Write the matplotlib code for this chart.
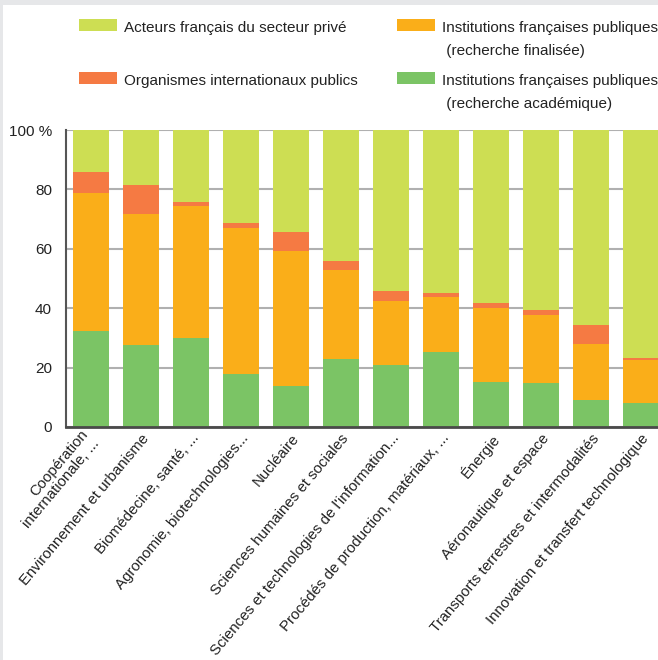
import matplotlib.pyplot as plt
import matplotlib.patches as mpatches
import matplotlib.transforms as mtrans
import numpy as np

plt.rcParams['font.family'] = ['Liberation Sans', 'DejaVu Sans']

domaines = ['Coopération\ninternationale, ...', 'Environnement et urbanisme', 'Biomédecine, santé, ...',
            'Agronomie, biotechnologies...', 'Nucléaire', 'Sciences humaines et sociales',
            "Sciences et technologies de l'information...", 'Procédés de production, matériaux, ...',
            'Énergie', 'Aéronautique et espace', 'Transports terrestres et intermodalités',
            'Innovation et transfert technologique']

# parts en %
academique = [32.4, 27.6, 30.0, 17.9, 13.9, 22.9, 20.9, 25.4, 15.2, 14.8, 9.2, 8.1]
finalisee = [46.5, 44.2, 44.5, 49.2, 45.4, 30.0, 21.6, 18.4, 24.9, 22.9, 18.8, 14.5]
internationaux = [7.1, 9.8, 1.3, 1.7, 6.4, 3.1, 3.3, 1.4, 1.7, 1.7, 6.4, 0.7]
prive = [14.0, 18.4, 24.2, 31.2, 34.3, 44.0, 54.2, 54.8, 58.2, 60.6, 65.6, 76.7]

noms = ['Institutions françaises publiques\n (recherche académique)',
        'Institutions françaises publiques\n (recherche finalisée)',
        'Organismes internationaux publics',
        'Acteurs français du secteur privé']
couleurs = ['#7bc465', '#faae19', '#f57a43', '#cdde53']

fig = plt.figure(figsize=(6.58, 6.6), dpi=100, facecolor='#e6e7e9')
fig.patches.append(mpatches.Rectangle((3/658, 0), 1, 655/660, transform=fig.transFigure,
                                      facecolor='white', edgecolor='none', zorder=-5))

ax = fig.add_axes([66/658, 233/660, 600/658, 297/660])
ax.set_facecolor('none')

x = np.arange(len(domaines))
bas = np.zeros(len(domaines))
for vals, c in zip([academique, finalisee, internationaux, prive], couleurs):
    ax.bar(x, vals, bottom=bas, width=0.72, color=c, zorder=3)
    bas += np.array(vals)

ax.set_xlim(-0.5, 11.5)
ax.set_ylim(0, 100)
ax.set_yticks([0, 20, 40, 60, 80, 100])
ax.set_yticklabels(['0', '20', '40', '60', '80', '100 %'], fontsize=11, color='#222222')
ax.yaxis.grid(True, color='#b0b0b0', linewidth=1.5, zorder=1)
ax.tick_params(axis='y', length=0, pad=10)
ax.tick_params(axis='x', length=0, pad=3)
ax.set_xticks(x)
ax.set_xticklabels(domaines, rotation=50, ha='right', va='top', rotation_mode='anchor',
                   fontsize=10.8, color='#222222', linespacing=1.1)
# le libellé sur deux lignes est centré sur son repère
lbl = ax.get_xticklabels()[0]
lbl.set_va('center')
lbl.set_transform(lbl.get_transform() + mtrans.ScaledTranslation(0, -4/72, fig.dpi_scale_trans))

for s in ['top', 'right']:
    ax.spines[s].set_visible(False)
ax.spines['left'].set_color('#555555')
ax.spines['left'].set_linewidth(1.5)
ax.spines['bottom'].set_color('#4a4a4a')
ax.spines['bottom'].set_linewidth(2)
ax.spines['bottom'].set_zorder(4)

# légende (carré + texte, ligne par ligne)
pos = [(397, 72), (397, 19), (79, 72), (79, 19)]
for (px, py), nom, c in zip(pos, noms, couleurs):
    fig.patches.append(mpatches.Rectangle((px/658, 1 - (py + 12)/660), 38/658, 12/660,
                                          transform=fig.transFigure, facecolor=c, edgecolor='none'))
    for i, ligne in enumerate(nom.split('\n')):
        fig.text((px + 45)/658, 1 - (py + 13 + 23*i)/660, ligne, fontsize=11, color='#222222',
                 ha='left', va='baseline')

fig.savefig('out.png', dpi=100, facecolor=fig.get_facecolor())
